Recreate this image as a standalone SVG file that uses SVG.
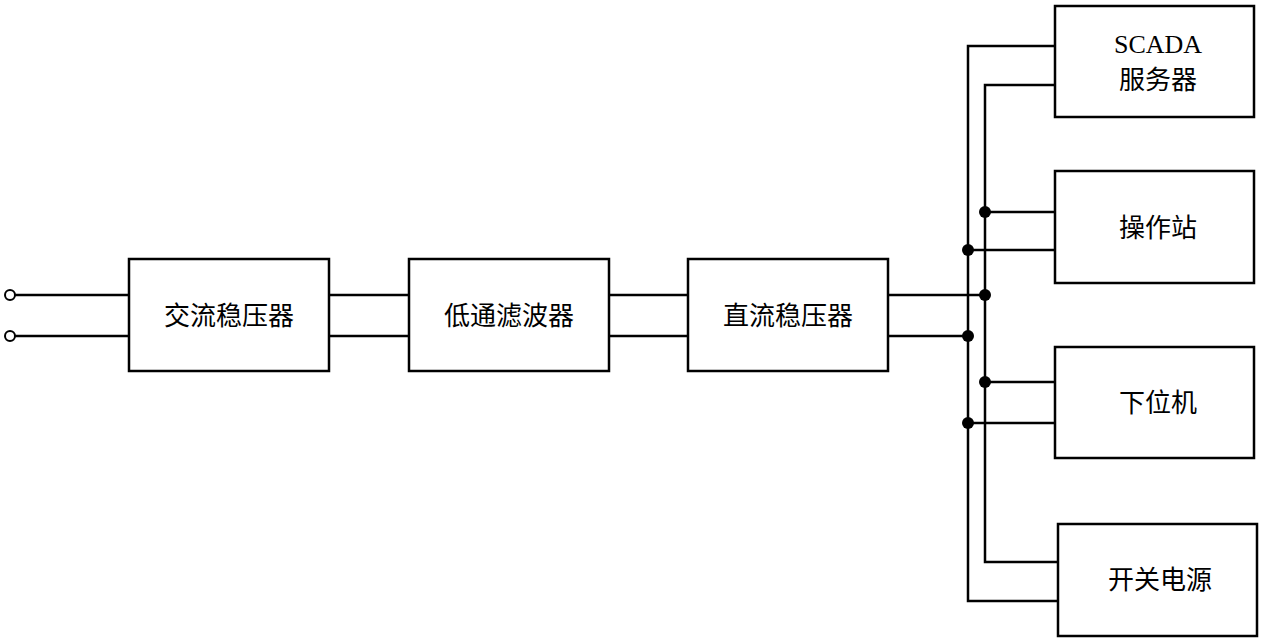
<svg xmlns="http://www.w3.org/2000/svg" width="1263" height="638" viewBox="0 0 1263 638">
<style>
.b{fill:#fff;stroke:#000;stroke-width:2.5}
.w{fill:none;stroke:#000;stroke-width:2.5}
.d{fill:#000}
text{font-family:"Liberation Serif","Noto Sans CJK SC",serif;font-size:26px;text-anchor:middle;fill:#000}
</style>
<rect width="1263" height="638" fill="#fff"/>
<g id="connectors">
<circle cx="10" cy="295" r="5" fill="#fff" stroke="#000" stroke-width="2"/>
<circle cx="10" cy="336" r="5" fill="#fff" stroke="#000" stroke-width="2"/>
<path class="w" d="M15 295H129M15 336H129M329 295H409M329 336H409M609 295H688M609 336H688M888 295H985M888 336H968"/>
<path class="w" d="M1055 46H968V601H1058M1055 85H985V562H1058"/>
<path class="w" d="M985 212H1055M968 250H1055M985 382H1055M968 423H1055"/>
<circle class="d" cx="985" cy="212" r="6"/>
<circle class="d" cx="968" cy="250" r="6"/>
<circle class="d" cx="985" cy="295" r="6"/>
<circle class="d" cx="968" cy="336" r="6"/>
<circle class="d" cx="985" cy="382" r="6"/>
<circle class="d" cx="968" cy="423" r="6"/>
</g>
<g id="ac"><rect class="b" x="129" y="259" width="200" height="112"/><text x="229" y="325">交流稳压器</text></g>
<g id="lpf"><rect class="b" x="409" y="259" width="200" height="112"/><text x="509" y="325">低通滤波器</text></g>
<g id="dc"><rect class="b" x="688" y="259" width="200" height="112"/><text x="788" y="325">直流稳压器</text></g>
<g id="scada"><rect class="b" x="1055" y="6" width="199" height="111"/><text x="1158" y="53">SCADA</text><text x="1158" y="89">服务器</text></g>
<g id="op"><rect class="b" x="1055" y="171" width="199" height="112"/><text x="1158" y="237">操作站</text></g>
<g id="plc"><rect class="b" x="1055" y="347" width="199" height="111"/><text x="1158" y="412">下位机</text></g>
<g id="psu"><rect class="b" x="1058" y="524" width="199" height="112"/><text x="1160" y="589">开关电源</text></g>
</svg>
